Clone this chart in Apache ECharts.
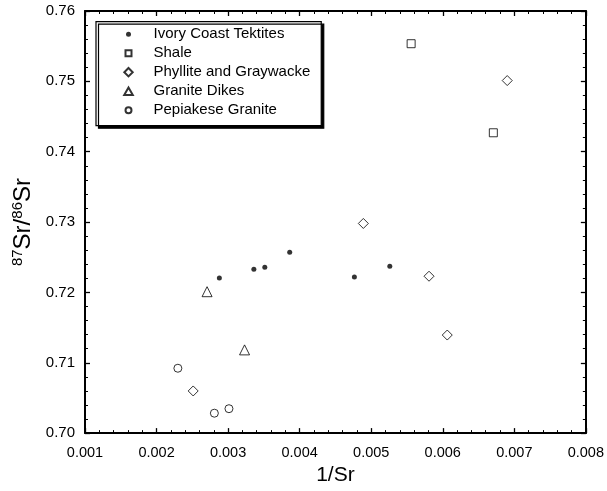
<!DOCTYPE html>
<html>
<head>
<meta charset="utf-8">
<script src="https://cdn.jsdelivr.net/npm/echarts@6/dist/echarts.min.js"></script>
<style>
html,body{margin:0;padding:0;background:#fff;}
#chart{width:607px;height:491px;}
</style>
</head>
<body>
<div id="chart"></div>
<script>
// Data (x = 1/Sr, y = 87Sr/86Sr)
const tektites = [[0.002878,0.72206],[0.003360,0.72328],[0.003513,0.72356],[0.003861,0.72570],[0.004765,0.72220],[0.005260,0.72370]];
const shale = [[0.005558,0.75535],[0.006707,0.74269]];
const phyllite = [[0.002512,0.70599],[0.004890,0.72980],[0.005808,0.72230],[0.006063,0.71394],[0.006901,0.75011]];
const graniteDikes = [[0.002706,0.72010],[0.003230,0.71183]];
const pepiakese = [[0.002298,0.70922],[0.002808,0.70283],[0.003012,0.70347]];
const seriesNames = ['Ivory Coast Tektites','Shale','Phyllite and Graywacke','Granite Dikes','Pepiakese Granite'];
const xMin = 0.001, xMax = 0.008, xStep = 0.001;
const yMin = 0.70, yMax = 0.76, yStep = 0.01;

const FONT = "'Liberation Sans', Arial, Helvetica, sans-serif";
const chart = echarts.init(document.getElementById('chart'), null, {renderer:'canvas'});

function axisBase() {
  return {
    axisLine:{show:true, onZero:false, lineStyle:{color:'#000', width:2}},
    axisTick:{show:true, inside:true, length:5, lineStyle:{color:'#000', width:1.3}},
    minorTick:{show:true, splitNumber:5, length:3, lineStyle:{color:'#000', width:1}},
    splitLine:{show:false},
    minorSplitLine:{show:false}
  };
}

const openStyle = {color:'#fff', borderColor:'#000', borderWidth:1};
// legend icons: a fixed 9x9 frame (M0,0 M9,9) with a smaller glyph inside
const BOX = 'path://M0,0 M9,9 ';
const legendIcons = [
  BOX + 'M2,4.5 A2.5,2.5 0 1,1 7,4.5 A2.5,2.5 0 1,1 2,4.5 Z',
  BOX + 'M1.5,1.5 L7.5,1.5 L7.5,7.5 L1.5,7.5 Z',
  BOX + 'M4.5,0.3 L8.7,4.5 L4.5,8.7 L0.3,4.5 Z',
  BOX + 'M4.5,0.8 L8.8,8.4 L0.2,8.4 Z',
  BOX + 'M1.5,4.5 A3,3 0 1,1 7.5,4.5 A3,3 0 1,1 1.5,4.5 Z'
];

chart.setOption({
  animation:false,
  backgroundColor:'#fff',
  grid:{left:85, right:19, top:11, bottom:51.5},
  legend:{
    orient:'vertical', left:96, top:21.7,
    padding:[5,11,8,27],
    itemWidth:40, itemHeight:9, itemGap:4,
    backgroundColor:'#fff', borderColor:'#000', borderWidth:1.2,
    shadowColor:'#000', shadowOffsetX:2.5, shadowOffsetY:2.5, shadowBlur:0,
    textStyle:{fontFamily:FONT, fontSize:15, color:'#000', lineHeight:15},
    data:seriesNames.map((n,i)=>({name:n, icon:legendIcons[i]})),
    selectedMode:false
  },
  xAxis:[
    Object.assign(axisBase(), {
      type:'value', min:xMin, max:xMax, interval:xStep, position:'bottom',
      name:'1/Sr', nameLocation:'middle', nameGap:28,
      nameTextStyle:{fontFamily:FONT, fontSize:21, color:'#000', verticalAlign:'top'},
      axisLabel:{show:true, margin:12, fontFamily:FONT, fontSize:14.5, color:'#000',
        formatter:v=>v.toFixed(3)}
    }),
    Object.assign(axisBase(), {
      type:'value', min:xMin, max:xMax, interval:xStep, position:'top',
      axisLabel:{show:false}
    })
  ],
  yAxis:[
    Object.assign(axisBase(), {
      type:'value', min:yMin, max:yMax, interval:yStep, position:'left',
      name:'{sup|87}Sr/{sup|86}Sr', nameLocation:'middle', nameGap:46, nameRotate:90,
      nameTextStyle:{fontFamily:FONT, fontSize:24, color:'#000',
        rich:{sup:{fontFamily:FONT, fontSize:15, color:'#000', verticalAlign:'top', padding:[0,0,10,0]}}},
      axisLabel:{show:true, margin:10, fontFamily:FONT, fontSize:15, color:'#000',
        formatter:v=>v.toFixed(2)}
    }),
    Object.assign(axisBase(), {
      type:'value', min:yMin, max:yMax, interval:yStep, position:'right',
      axisLabel:{show:false}
    })
  ],
  series:[
    {name:seriesNames[0], type:'scatter', data:tektites, symbol:'circle', symbolSize:5,
      itemStyle:{color:'#000'}},
    {name:seriesNames[1], type:'scatter', data:shale, symbol:'rect', symbolSize:8, itemStyle:openStyle},
    {name:seriesNames[2], type:'scatter', data:phyllite, symbol:'diamond', symbolSize:10, itemStyle:openStyle},
    {name:seriesNames[3], type:'scatter', data:graniteDikes, symbol:'triangle', symbolSize:10, itemStyle:openStyle},
    {name:seriesNames[4], type:'scatter', data:pepiakese, symbol:'circle', symbolSize:8, itemStyle:openStyle}
  ]
});
</script>
</body>
</html>
